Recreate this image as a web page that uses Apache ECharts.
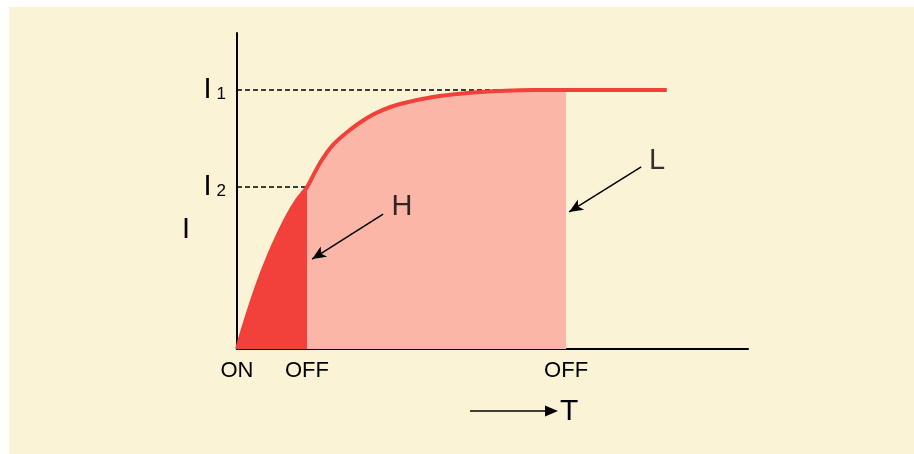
<!DOCTYPE html>
<html><head><meta charset="utf-8">
<script src="https://cdn.jsdelivr.net/npm/echarts@6/dist/echarts.min.js"></script>
<style>html,body{margin:0;padding:0;background:#fff}#c{width:914px;height:454px}</style>
</head><body><div id="c"></div>
<script>
// Current rise curve (time in arbitrary units, current in % of I1)
const curveT = [0, 1.96, 3.91, 5.87, 7.83, 9.78, 11.74, 13.7, 16.24, 18.79, 22.11, 25.44, 28.57, 31.9, 38.36, 45.01, 51.47, 57.93, 64.4, 84.1];
const curveI = [0, 12.7, 24.3, 34.4, 43.2, 51.0, 57.5, 62.5, 71.8, 78.8, 84.6, 89.2, 92.3, 94.6, 97.3, 98.8, 99.6, 100, 100, 100];
// Levels on the current axis
const levelNames = ['1', '2'];
const levelValues = [100, 62.5];
// Switching times on the time axis
const switchTimes = [0, 13.7, 64.4];
const switchLabels = ['ON', 'OFF', 'OFF'];
// Region annotations (H = short pulse, L = long pulse)
const regionNames = ['H', 'L'];
const regionLabelT = [32.3, 82.2];
const regionLabelI = [54.8, 72.6];
const arrowFromT = [28.6, 79.1];
const arrowFromI = [52.1, 70.3];
const arrowToT = [14.7, 65.0];
const arrowToI = [34.7, 52.9];

const curve = curveT.map((t, i) => [t, curveI[i]]);
const hArea = curve.filter(p => p[0] <= switchTimes[1]);
const lArea = curve.filter(p => p[0] >= switchTimes[1] && p[0] <= switchTimes[2]);
const firstReach = v => { for (const p of curve) if (p[1] >= v) return p[0]; return curveT[curveT.length-1]; };

const dashSeries = levelValues.map((v) => ({
  type: 'line', data: [[0, v], [firstReach(v), v]], symbol: 'none', silent: true, z: 3,
  lineStyle: { color: '#000', width: 1.5, type: [5, 3] }
}));

const chart = echarts.init(document.getElementById('c'), null, { renderer: 'canvas' });
chart.setOption({
  backgroundColor: '#ffffff',
  animation: false,
  textStyle: { fontFamily: 'Liberation Sans' },
  graphic: [
    { type: 'rect', z: -10, shape: { x: 9, y: 7, width: 905, height: 447 }, style: { fill: '#faf3d6' } },
    { type: 'text', x: 186, y: 230, style: { text: 'I', fontSize: 29, fontFamily: 'Liberation Sans', fill: '#000', align: 'center', verticalAlign: 'middle' } },
    { type: 'line', shape: { x1: 470, y1: 411, x2: 550, y2: 411 }, style: { stroke: '#000', lineWidth: 1.5 } },
    { type: 'polygon', shape: { points: [[545, 405.5], [558, 411], [545, 416.5]] }, style: { fill: '#000' } },
    { type: 'text', x: 560, y: 412, style: { text: 'T', fontSize: 30, fontFamily: 'Liberation Sans', fill: '#000', align: 'left', verticalAlign: 'middle' } }
  ],
  grid: { left: 237, right: 166, top: 33, bottom: 105 },
  xAxis: {
    type: 'value', min: 0, max: 100,
    splitLine: { show: false },
    axisLine: { lineStyle: { color: '#000', width: 2 } },
    axisTick: { show: false },
    axisLabel: {
      customValues: switchTimes,
      formatter: v => switchLabels[switchTimes.indexOf(v)] || '',
      color: '#000', fontSize: 22, margin: 11, fontFamily: 'Liberation Sans'
    }
  },
  yAxis: {
    type: 'value', min: 0, max: 122,
    splitLine: { show: false },
    axisLine: { show: true, lineStyle: { color: '#000', width: 2 } },
    axisTick: { show: false },
    axisLabel: {
      customValues: levelValues,
      formatter: v => '{a|I}{b|' + levelNames[levelValues.indexOf(v)] + '}',
      margin: 11,
      rich: {
        a: { fontSize: 29, color: '#000', fontFamily: 'Liberation Sans' },
        b: { fontSize: 17, color: '#000', fontFamily: 'Liberation Sans', padding: [8, 0, 0, 5] }
      }
    }
  },
  series: [
    { type: 'line', data: lArea, smooth: 0.4, symbol: 'none', lineStyle: { width: 0 },
      areaStyle: { color: '#fbb6a8', opacity: 1 }, z: 1, silent: true },
    { type: 'line', data: hArea, smooth: 0.4, symbol: 'none', lineStyle: { width: 0 },
      areaStyle: { color: '#f2403a', opacity: 1 }, z: 2, silent: true },
    ...dashSeries,
    { type: 'line', data: curve, smooth: 0.4, symbol: 'none',
      lineStyle: { color: '#f2403a', width: 4 }, z: 5, silent: true },
    { type: 'scatter', symbolSize: 0, z: 6, silent: true,
      data: regionNames.map((n, i) => ({ name: n, value: [regionLabelT[i], regionLabelI[i]] })),
      label: { show: true, position: 'inside', formatter: '{b}', color: '#000', fontSize: 29, fontFamily: 'Liberation Sans' },
      markLine: {
        silent: true, symbol: ['none', 'arrow'], symbolSize: [9, 14],
        lineStyle: { color: '#000', width: 1.5, type: 'solid' }, label: { show: false },
        data: regionNames.map((n, i) => [
          { coord: [arrowFromT[i], arrowFromI[i]] },
          { coord: [arrowToT[i], arrowToI[i]] }
        ])
      }
    }
  ]
});
</script></body></html>
